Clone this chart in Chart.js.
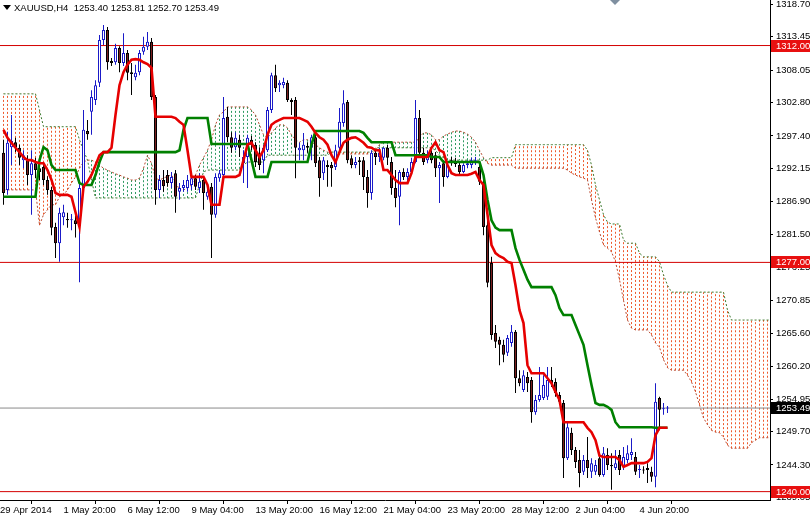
<!DOCTYPE html>
<html>
<head>
<meta charset="utf-8">
<script src="https://cdn.jsdelivr.net/npm/chart.js@4.4.1/dist/chart.umd.min.js"></script>
<style>
html, body { margin: 0; padding: 0; background: #fff; }
#wrap { width: 810px; height: 519px; }
</style>
</head>
<body>
<div id="wrap"><canvas id="xau" width="810" height="519"></canvas></div>
<script>
const symbolTitle = 'XAUUSD,H4  1253.40 1253.81 1252.70 1253.49';

// time axis: bar index of each label (4 px per H4 bar)
const xMin = -0.875;
const xMax = 191.625;
const timeLabels = ['29 Apr 2014', '1 May 20:00', '6 May 12:00', '9 May 04:00', '13 May 20:00', '16 May 12:00',
  '21 May 04:00', '23 May 20:00', '28 May 12:00', '2 Jun 04:00', '4 Jun 20:00'];
const timeTickBars = [xMin, 15, 31, 47, 63, 79, 95, 111, 127, 143, 159];

const priceTicks = [1318.70, 1313.45, 1308.05, 1302.80, 1297.40, 1292.15, 1286.90, 1281.50,
  1276.25, 1270.85, 1265.60, 1260.20, 1254.95, 1249.70, 1244.30, 1239.05];
const priceMin = 1238.65;
const priceMax = 1319.35;

const levels = [1312.00, 1277.00, 1240.00];
const bidPrice = 1253.49;

// candles
const opens = [
  1294.7, 1288.7, 1295.6, 1296.4, 1295.5, 1293.5, 1293.5, 1291.1, 1293.0, 1292.2,
  1292.4, 1290.3, 1288.7, 1282.7, 1280.1, 1284.3, 1284.0, 1283.8, 1283.8, 1282.9,
  1289.0, 1298.2, 1301.3, 1303.2, 1306.0, 1312.9, 1314.5, 1309.5, 1309.3, 1311.6,
  1309.2, 1310.8, 1307.7, 1306.9, 1307.7, 1311.0, 1311.8, 1312.6, 1303.7, 1288.7,
  1290.3, 1291.1, 1289.8, 1291.4, 1288.4, 1289.0, 1289.0, 1289.5, 1290.6, 1289.0,
  1290.3, 1287.6, 1289.2, 1284.7, 1290.6, 1291.1, 1300.5, 1297.2, 1295.6, 1296.8,
  1293.0, 1294.0, 1296.8, 1296.0, 1294.0, 1293.5, 1295.1, 1301.6, 1307.2, 1305.6,
  1305.6, 1306.0, 1303.2, 1303.2, 1295.1, 1295.1, 1295.8, 1295.5, 1297.2, 1293.5,
  1291.4, 1292.7, 1292.7, 1292.4, 1295.5, 1299.5, 1302.9, 1293.8, 1292.7, 1293.5,
  1293.5, 1290.8, 1288.2, 1294.7, 1294.0, 1293.9, 1295.5, 1293.2, 1289.0, 1287.6,
  1291.6, 1290.8, 1291.6, 1293.2, 1300.3, 1294.7, 1293.5, 1294.7, 1294.3, 1292.2,
  1293.0, 1290.8, 1293.5, 1293.2, 1292.7, 1291.6, 1292.7, 1292.7, 1293.2, 1292.4,
  1290.0, 1283.0, 1276.9, 1265.6, 1264.5, 1263.7, 1262.4, 1264.0, 1265.8, 1258.3,
  1256.4, 1258.5, 1258.0, 1252.8, 1254.8, 1255.1, 1255.3, 1258.0, 1257.7, 1255.6,
  1254.3, 1245.4, 1249.5, 1246.7, 1245.1, 1243.2, 1245.1, 1243.2, 1243.2, 1245.4,
  1242.7, 1245.9, 1244.3, 1243.8, 1245.9, 1244.0, 1245.1, 1245.9, 1245.6, 1243.5,
  1243.5, 1243.8, 1243.2, 1242.4, 1255.1, 1253.3, 1253.40
];
const highs = [
  1296.8, 1298.1, 1300.8, 1297.1, 1296.0, 1295.1, 1294.3, 1295.1, 1293.9, 1293.5,
  1293.2, 1290.9, 1289.2, 1283.4, 1285.8, 1286.3, 1285.0, 1284.8, 1284.6, 1290.3,
  1301.6, 1300.0, 1304.8, 1306.4, 1313.7, 1315.3, 1315.0, 1310.0, 1312.3, 1311.9,
  1314.0, 1311.3, 1309.2, 1308.9, 1311.3, 1313.4, 1314.2, 1313.2, 1304.0, 1291.1,
  1291.9, 1291.9, 1291.6, 1291.9, 1289.8, 1290.3, 1291.1, 1291.6, 1291.1, 1291.4,
  1290.8, 1289.0, 1289.8, 1291.4, 1291.9, 1303.7, 1302.1, 1298.0, 1298.0, 1297.6,
  1295.1, 1297.6, 1297.4, 1296.4, 1295.6, 1296.0, 1302.1, 1307.6, 1308.9, 1306.4,
  1306.8, 1306.4, 1303.5, 1303.7, 1296.3, 1297.9, 1296.4, 1297.6, 1297.9, 1294.0,
  1294.0, 1293.5, 1293.2, 1296.0, 1301.9, 1304.8, 1303.2, 1294.3, 1294.0, 1294.0,
  1294.0, 1291.9, 1295.1, 1295.1, 1295.5, 1295.6, 1296.0, 1294.0, 1291.9, 1291.9,
  1292.2, 1292.2, 1293.9, 1303.2, 1301.6, 1295.5, 1295.1, 1295.1, 1294.8, 1293.2,
  1293.5, 1293.2, 1294.0, 1293.9, 1293.2, 1293.0, 1293.5, 1293.9, 1294.0, 1292.7,
  1290.6, 1283.8, 1277.9, 1266.9, 1265.0, 1264.5, 1265.3, 1266.9, 1266.1, 1259.6,
  1259.6, 1259.3, 1258.5, 1255.6, 1260.1, 1258.8, 1260.1, 1260.1, 1258.3, 1256.1,
  1254.8, 1251.1, 1250.3, 1247.2, 1246.7, 1245.9, 1248.8, 1245.4, 1245.1, 1245.9,
  1247.2, 1247.0, 1246.2, 1246.7, 1246.7, 1247.2, 1247.5, 1248.6, 1246.4, 1244.3,
  1244.1, 1244.6, 1244.0, 1257.5, 1255.3, 1254.3, 1253.81
];
const lows = [
  1286.3, 1287.9, 1292.7, 1294.8, 1292.7, 1292.2, 1289.5, 1284.7, 1290.6, 1290.3,
  1289.5, 1287.9, 1281.4, 1277.7, 1277.1, 1283.0, 1282.6, 1282.2, 1281.0, 1273.8,
  1288.4, 1296.8, 1297.6, 1302.4, 1305.3, 1312.1, 1308.1, 1308.7, 1308.9, 1307.7,
  1308.7, 1306.4, 1304.0, 1306.4, 1307.2, 1310.5, 1311.3, 1303.2, 1286.3, 1287.4,
  1288.4, 1289.2, 1289.0, 1285.0, 1287.1, 1288.4, 1288.4, 1288.7, 1288.7, 1288.2,
  1285.5, 1287.1, 1277.7, 1284.2, 1290.0, 1290.6, 1296.4, 1294.7, 1295.1, 1294.0,
  1289.8, 1289.0, 1295.1, 1292.4, 1291.9, 1291.4, 1294.8, 1301.1, 1304.5, 1304.5,
  1305.1, 1302.9, 1300.8, 1290.6, 1293.5, 1293.5, 1294.7, 1293.5, 1292.4, 1287.6,
  1290.3, 1289.2, 1289.2, 1291.9, 1295.1, 1298.9, 1293.0, 1292.2, 1292.2, 1291.1,
  1288.7, 1285.8, 1287.1, 1292.7, 1293.2, 1293.5, 1292.7, 1287.9, 1285.9, 1283.0,
  1290.3, 1290.0, 1291.1, 1293.0, 1294.0, 1292.7, 1293.0, 1293.0, 1290.8, 1286.6,
  1289.2, 1290.6, 1292.6, 1292.4, 1291.1, 1291.4, 1292.2, 1292.2, 1292.7, 1289.5,
  1281.4, 1273.0, 1264.5, 1263.2, 1260.4, 1260.9, 1261.9, 1263.4, 1255.9, 1257.0,
  1256.1, 1256.1, 1251.1, 1252.4, 1254.5, 1254.8, 1254.8, 1256.9, 1255.3, 1254.0,
  1242.2, 1245.1, 1245.9, 1243.8, 1240.7, 1242.7, 1242.2, 1242.2, 1242.7, 1242.4,
  1242.4, 1243.5, 1240.3, 1243.5, 1242.7, 1243.5, 1244.6, 1245.1, 1242.7, 1242.2,
  1242.9, 1241.4, 1241.6, 1240.7, 1249.9, 1252.4, 1252.70
];
const closes = [
  1288.2, 1296.3, 1296.6, 1295.5, 1293.9, 1294.3, 1291.1, 1293.0, 1291.9, 1291.6,
  1290.3, 1288.7, 1282.6, 1280.1, 1285.0, 1285.1, 1283.8, 1283.9, 1283.2, 1289.0,
  1298.4, 1297.7, 1303.7, 1305.6, 1312.9, 1314.5, 1309.3, 1309.2, 1311.6, 1309.2,
  1310.8, 1307.6, 1307.4, 1307.6, 1310.8, 1311.8, 1312.6, 1303.7, 1288.7, 1290.3,
  1289.3, 1289.8, 1290.8, 1287.6, 1289.0, 1289.5, 1290.3, 1290.6, 1289.2, 1290.0,
  1288.2, 1288.4, 1284.7, 1290.8, 1291.4, 1300.3, 1297.2, 1295.5, 1297.1, 1295.5,
  1294.0, 1297.1, 1296.0, 1293.2, 1292.7, 1295.5, 1301.6, 1307.2, 1305.1, 1306.0,
  1306.1, 1303.2, 1302.9, 1295.5, 1295.5, 1296.0, 1295.5, 1297.2, 1293.0, 1290.6,
  1293.5, 1292.4, 1292.2, 1295.1, 1299.7, 1302.7, 1293.5, 1292.7, 1293.2, 1293.2,
  1290.8, 1288.2, 1294.7, 1294.0, 1294.7, 1295.5, 1293.9, 1289.0, 1287.4, 1291.6,
  1290.8, 1291.6, 1293.2, 1300.3, 1294.7, 1293.2, 1294.3, 1293.5, 1292.2, 1292.7,
  1290.8, 1292.7, 1293.0, 1292.9, 1291.6, 1292.7, 1293.0, 1293.5, 1293.5, 1290.0,
  1282.7, 1273.7, 1265.3, 1264.2, 1263.7, 1262.1, 1264.8, 1265.8, 1258.3, 1257.5,
  1258.8, 1257.5, 1252.8, 1254.8, 1255.6, 1257.2, 1258.0, 1257.5, 1255.9, 1254.5,
  1245.4, 1250.4, 1246.7, 1244.8, 1243.0, 1245.1, 1243.8, 1244.6, 1244.3, 1242.7,
  1246.2, 1244.3, 1244.1, 1244.6, 1243.5, 1245.6, 1246.2, 1246.4, 1243.2, 1243.6,
  1243.4, 1243.5, 1242.4, 1254.5, 1253.2, 1253.4, 1253.49
];

// Ichimoku lines
const tenkan = [
  1298.4, 1297.1, 1296.3, 1295.5, 1294.8, 1294.0, 1293.5, 1293.5, 1293.2, 1293.0,
  1293.0, 1291.9, 1290.3, 1288.2, 1287.9, 1287.9, 1287.9, 1287.6, 1285.1, 1282.7,
  1289.2, 1290.0, 1291.1, 1292.7, 1294.3, 1294.8, 1294.8, 1295.5, 1300.8, 1305.6,
  1307.7, 1308.9, 1309.7, 1309.8, 1309.7, 1309.3, 1309.0, 1308.4, 1300.5, 1300.5,
  1300.5, 1300.5, 1300.5, 1300.3, 1299.7, 1299.2, 1295.1, 1290.8, 1290.8, 1290.8,
  1290.8, 1289.5, 1286.3, 1286.3, 1286.3, 1290.8, 1290.8, 1290.8, 1290.8, 1291.1,
  1293.5, 1296.0, 1296.3, 1295.1, 1294.0, 1295.1, 1297.6, 1299.2, 1299.7, 1300.0,
  1300.3, 1300.3, 1300.3, 1300.3, 1300.3, 1300.0, 1299.7, 1298.9, 1297.9, 1297.2,
  1296.8, 1296.0, 1294.3, 1293.2, 1294.8, 1296.3, 1296.8, 1297.1, 1297.2, 1296.8,
  1296.3, 1295.6, 1295.5, 1295.1, 1295.1, 1291.9, 1291.9, 1291.1, 1290.3, 1289.8,
  1289.8, 1289.8, 1291.4, 1294.0, 1294.0, 1294.0, 1294.0, 1295.5, 1296.4, 1295.1,
  1294.8, 1292.7, 1291.4, 1291.1, 1291.1, 1291.1, 1291.1, 1291.3, 1291.6, 1290.3,
  1289.5, 1284.7, 1279.8, 1278.5, 1278.0, 1277.7, 1277.1, 1276.9, 1273.3, 1269.3,
  1267.2, 1260.4, 1259.1, 1259.1, 1259.1, 1259.1, 1258.3, 1257.5, 1256.1, 1254.8,
  1251.2, 1251.2, 1251.2, 1251.2, 1251.2, 1251.2, 1250.3, 1249.6, 1248.3, 1245.8,
  1245.6, 1245.6, 1245.6, 1245.6, 1245.1, 1244.0, 1244.3, 1244.6, 1244.6, 1244.6,
  1244.6, 1244.8, 1245.4, 1249.1, 1250.3, 1250.3, 1250.3
];
const kijun = [
  1287.6, 1287.6, 1287.6, 1287.6, 1287.6, 1287.6, 1287.6, 1287.6, 1287.6, 1293.5,
  1295.6, 1295.1, 1292.7, 1291.9, 1291.9, 1291.9, 1291.9, 1291.9, 1291.9, 1289.8,
  1289.5, 1289.5, 1289.5, 1291.1, 1293.2, 1294.8, 1294.8, 1294.8, 1294.8, 1294.8,
  1294.8, 1294.8, 1294.8, 1294.8, 1294.8, 1294.8, 1294.8, 1294.8, 1294.8, 1294.8,
  1294.8, 1294.8, 1294.8, 1294.8, 1295.1, 1298.4, 1300.3, 1300.3, 1300.3, 1300.3,
  1300.3, 1300.3, 1296.1, 1296.1, 1296.1, 1296.1, 1296.1, 1296.1, 1296.1, 1296.1,
  1296.1, 1296.1, 1293.5, 1290.8, 1290.8, 1290.8, 1290.8, 1293.2, 1293.2, 1293.2,
  1293.2, 1293.2, 1293.2, 1293.2, 1293.2, 1293.2, 1293.2, 1296.0, 1298.2, 1298.2,
  1298.2, 1298.2, 1298.2, 1298.2, 1298.2, 1298.2, 1298.2, 1298.2, 1298.2, 1298.2,
  1297.9, 1297.1, 1296.4, 1296.4, 1296.4, 1296.4, 1296.4, 1296.4, 1294.3, 1294.3,
  1294.3, 1294.3, 1294.3, 1294.3, 1294.3, 1294.3, 1294.3, 1294.0, 1294.0, 1294.0,
  1293.2, 1293.2, 1293.2, 1293.2, 1293.2, 1293.2, 1293.2, 1293.2, 1293.2, 1293.2,
  1291.1, 1287.1, 1283.8, 1282.6, 1282.2, 1282.2, 1282.2, 1282.2, 1279.3, 1277.4,
  1275.8, 1274.2, 1273.0, 1273.0, 1273.0, 1273.0, 1273.0, 1273.0, 1271.7, 1269.6,
  1268.5, 1268.5, 1268.5, 1266.9, 1265.3, 1263.7, 1260.4, 1257.2, 1254.3, 1254.0,
  1254.0, 1253.7, 1253.2, 1251.2, 1250.4, 1250.4, 1250.4, 1250.4, 1250.4, 1250.4,
  1250.4, 1250.4, 1250.4, 1250.3, 1250.3, 1250.3, 1250.3
];
// cloud, shifted 26 bars ahead (bar 0..192)
const spanA = [
  1288.7, 1288.7, 1288.7, 1288.7, 1288.7, 1288.7, 1288.7, 1288.7, 1288.7, 1283.0,
  1284.7, 1285.5, 1286.3, 1286.3, 1287.6, 1287.9, 1288.7, 1289.8, 1290.8, 1292.2,
  1293.2, 1293.5, 1293.5, 1293.2, 1292.7, 1292.2, 1291.9, 1291.6, 1291.3, 1291.1,
  1290.8, 1290.6, 1290.3, 1290.3, 1290.6, 1292.2, 1294.3, 1293.0, 1290.6, 1290.3,
  1290.6, 1290.9, 1291.1, 1290.0, 1288.7, 1288.7, 1289.0, 1289.5, 1291.1, 1292.7,
  1293.9, 1295.1, 1296.8, 1299.2, 1300.8, 1301.3, 1302.1, 1302.1, 1302.1, 1302.1,
  1302.1, 1302.1, 1301.6, 1300.8, 1299.2, 1297.6, 1297.1, 1297.9, 1298.7, 1299.2,
  1299.2, 1298.7, 1297.6, 1296.8, 1296.4, 1296.8, 1296.8, 1296.4, 1296.0, 1295.5,
  1295.1, 1294.8, 1294.5, 1294.5, 1294.5, 1294.5, 1294.5, 1294.5, 1294.5, 1294.5,
  1294.5, 1294.5, 1294.5, 1295.1, 1296.0, 1296.4, 1296.4, 1296.4, 1296.4, 1296.4,
  1296.4, 1296.4, 1296.4, 1296.4, 1297.2, 1297.9, 1297.9, 1297.6, 1296.8, 1296.8,
  1297.4, 1297.7, 1298.0, 1298.2, 1298.2, 1298.0, 1297.7, 1297.2, 1296.4, 1295.1,
  1293.9, 1293.0, 1292.7, 1292.7, 1292.7, 1292.7, 1292.7, 1292.7, 1292.2, 1292.2,
  1292.2, 1292.2, 1292.2, 1292.2, 1292.2, 1292.2, 1292.2, 1292.2, 1292.2, 1292.2,
  1292.2, 1291.9, 1291.4, 1291.1, 1290.8, 1290.6, 1290.3, 1287.1, 1284.2, 1281.9,
  1279.8, 1279.3, 1278.7, 1277.1, 1274.2, 1270.9, 1267.7, 1266.4, 1266.1, 1266.1,
  1266.1, 1266.1, 1265.3, 1264.0, 1263.3, 1261.3, 1260.0, 1259.6, 1259.6, 1259.6,
  1259.6, 1258.8, 1257.7, 1256.1, 1254.0, 1251.9, 1250.8, 1249.9, 1249.6, 1249.5,
  1248.8, 1247.5, 1247.0, 1247.0, 1247.0, 1247.0, 1247.0, 1247.9, 1248.3, 1248.7,
  1248.7, 1248.7, 1248.7
];
const spanB = [
  1304.2, 1304.2, 1304.2, 1304.2, 1304.2, 1304.2, 1304.2, 1304.2, 1304.2, 1301.6,
  1298.9, 1298.9, 1298.9, 1298.9, 1298.9, 1298.9, 1298.9, 1298.9, 1298.9, 1296.8,
  1295.1, 1293.5, 1290.3, 1287.4, 1287.4, 1287.4, 1287.4, 1287.4, 1287.4, 1287.4,
  1287.4, 1287.4, 1287.4, 1287.4, 1287.4, 1287.4, 1287.4, 1287.4, 1287.4, 1287.4,
  1287.4, 1287.4, 1287.4, 1287.4, 1287.4, 1287.4, 1287.4, 1287.4, 1287.4, 1289.5,
  1291.6, 1291.9, 1291.9, 1291.9, 1291.9, 1291.9, 1291.9, 1291.9, 1291.9, 1291.9,
  1292.7, 1293.2, 1293.2, 1293.2, 1293.2, 1293.2, 1294.3, 1294.3, 1294.3, 1294.3,
  1294.3, 1294.3, 1294.3, 1294.3, 1294.3, 1294.3, 1294.3, 1294.3, 1294.3, 1294.3,
  1294.3, 1294.3, 1294.8, 1294.8, 1294.8, 1294.8, 1294.8, 1294.8, 1294.8, 1294.8,
  1294.8, 1294.8, 1294.8, 1295.5, 1295.5, 1295.5, 1295.5, 1295.5, 1295.5, 1295.5,
  1295.5, 1295.5, 1295.5, 1295.5, 1295.5, 1295.5, 1295.5, 1295.5, 1295.1, 1294.3,
  1293.9, 1293.5, 1293.5, 1293.5, 1293.5, 1293.5, 1293.5, 1293.5, 1293.5, 1293.5,
  1293.5, 1293.5, 1293.9, 1293.9, 1293.9, 1293.9, 1293.9, 1293.9, 1296.0, 1296.0,
  1296.0, 1296.0, 1296.0, 1296.0, 1296.0, 1296.0, 1296.0, 1296.0, 1296.0, 1296.0,
  1296.0, 1296.0, 1296.0, 1296.0, 1296.0, 1296.0, 1295.1, 1292.7, 1289.5, 1287.1,
  1284.7, 1283.5, 1283.2, 1283.2, 1283.2, 1280.6, 1280.1, 1280.1, 1280.1, 1278.5,
  1277.9, 1277.9, 1277.9, 1277.9, 1277.1, 1275.0, 1273.3, 1272.2, 1272.2, 1272.2,
  1272.2, 1272.2, 1272.2, 1272.2, 1272.2, 1272.2, 1272.2, 1272.2, 1272.2, 1272.2,
  1272.2, 1269.3, 1267.7, 1267.7, 1267.7, 1267.7, 1267.7, 1267.7, 1267.7, 1267.7,
  1267.7, 1267.7, 1267.7
];

const BULL = '#1a1ac8';
const BEAR_FILL = '#7a1e1e';
const LEVEL_RED = '#d40000';
const CLOUD_RED = '#ee5a2c';
const CLOUD_GREEN = '#2f9a62';
const isBull = i => closes[i] >= opens[i];

const pts = arr => arr.map((v, i) => ({ x: i, y: v }));
const hline = v => [{ x: -2, y: v }, { x: 194, y: v }];
// one dotted vertical stroke per bar between span A and span B, broken by null
const cloudPts = spanA.flatMap((a, i) => [{ x: i, y: a }, { x: i, y: spanB[i] }, { x: i, y: null }]);

// red boxes on price axis + title
const overlay = {
  id: 'overlay',
  afterDraw(chart) {
    const ctx = chart.ctx;
    const y = chart.scales.y;
    ctx.save();
    ctx.font = '9.5px "Liberation Sans"';
    ctx.textBaseline = 'middle';
    levels.forEach(v => {
      const py = Math.round(y.getPixelForValue(v));
      ctx.fillStyle = '#e81010';
      ctx.fillRect(771, py - 6, 39, 12);
      ctx.fillStyle = '#fff';
      ctx.fillText(v.toFixed(2), 776, py);
    });
    const pb = Math.round(y.getPixelForValue(bidPrice));
    ctx.fillStyle = '#000';
    ctx.fillRect(771, pb - 6, 39, 12);
    ctx.fillStyle = '#fff';
    ctx.fillText(bidPrice.toFixed(2), 776, pb);

    // title
    ctx.fillStyle = '#000';
    ctx.beginPath();
    ctx.moveTo(3, 5); ctx.lineTo(11, 5); ctx.lineTo(7, 10); ctx.closePath();
    ctx.fill();
    ctx.font = '9.5px "Liberation Sans"';
    ctx.fillText(symbolTitle, 14, 8);
    // shift marker
    ctx.fillStyle = '#7f8fa0';
    ctx.beginPath();
    ctx.moveTo(610, 0); ctx.lineTo(620, 0); ctx.lineTo(615, 5); ctx.closePath();
    ctx.fill();
    ctx.restore();
  }
};

Chart.defaults.font.family = '"Liberation Sans", Arial, sans-serif';
Chart.defaults.font.size = 9.5;
Chart.defaults.color = '#000';

new Chart(document.getElementById('xau'), {
  type: 'line',
  data: {
    datasets: [
      { label: 'Tenkan', data: pts(tenkan), borderColor: '#e60000', borderWidth: 2.6, pointRadius: 0, order: 1 },
      { label: 'Kijun', data: pts(kijun), borderColor: '#008000', borderWidth: 2.6, pointRadius: 0, order: 2 },
      {
        type: 'bar', label: 'Body',
        data: opens.map((o, i) => ({ x: i, y: [o, closes[i]] })),
        backgroundColor: c => isBull(c.dataIndex) ? '#ffffff' : BEAR_FILL,
        borderColor: c => isBull(c.dataIndex) ? BULL : '#000000',
        borderWidth: 1, borderSkipped: false, barThickness: 3, minBarLength: 1,
        grouped: false, inflateAmount: 0, order: 3
      },
      {
        type: 'bar', label: 'Wick',
        data: lows.map((l, i) => ({ x: i, y: [l, highs[i]] })),
        backgroundColor: c => isBull(c.dataIndex) ? BULL : '#000000',
        borderWidth: 0, barThickness: 1, grouped: false, inflateAmount: 0, order: 4
      },
      { label: 'L1', data: hline(levels[0]), borderColor: LEVEL_RED, borderWidth: 1, pointRadius: 0, order: 5 },
      { label: 'L2', data: hline(levels[1]), borderColor: LEVEL_RED, borderWidth: 1, pointRadius: 0, order: 5 },
      { label: 'L3', data: hline(levels[2]), borderColor: LEVEL_RED, borderWidth: 1, pointRadius: 0, order: 5 },
      { label: 'Bid', data: hline(bidPrice), borderColor: '#8a8a8a', borderWidth: 1, pointRadius: 0, order: 5 },
      {
        label: 'Span A', data: pts(spanA), borderColor: '#b84a30', borderWidth: 1, borderDash: [2, 2],
        pointRadius: 0, fill: false, order: 6
      },
      {
        label: 'Span B', data: pts(spanB), borderColor: '#3c7a2e', borderWidth: 1, borderDash: [2, 2],
        pointRadius: 0, fill: false, order: 7
      },
      {
        label: 'Cloud', data: cloudPts, borderWidth: 1, borderDash: [2, 2], pointRadius: 0,
        fill: false, spanGaps: false, order: 8, borderColor: CLOUD_RED,
        segment: {
          borderColor: c => {
            const k = Math.floor(c.p0DataIndex / 3);
            return spanA[k] >= spanB[k] ? CLOUD_GREEN : CLOUD_RED;
          }
        }
      }
    ]
  },
  options: {
    responsive: false,
    devicePixelRatio: 1,
    animation: false,
    layout: { padding: 0 },
    plugins: { legend: { display: false }, tooltip: { enabled: false } },
    scales: {
      x: {
        type: 'linear', min: xMin, max: xMax, offset: false,
        grid: { drawOnChartArea: false, drawTicks: true, tickLength: 4, color: '#000' },
        border: { display: true, color: '#000' },
        afterBuildTicks: s => { s.ticks = timeTickBars.map(v => ({ value: v })); },
        afterFit: s => { s.height = 19; s.paddingLeft = 0; s.paddingRight = 0; },
        ticks: {
          autoSkip: false, maxRotation: 0, align: 'start', padding: 1,
          callback: (v, i) => timeLabels[i]
        }
      },
      y: {
        position: 'right', min: priceMin, max: priceMax,
        grid: { drawOnChartArea: false, drawTicks: true, tickLength: 3, color: '#000' },
        border: { display: true, color: '#000' },
        afterBuildTicks: s => { s.ticks = priceTicks.map(v => ({ value: v })); },
        afterFit: s => { s.width = 40; s.paddingTop = 0; s.paddingBottom = 0; },
        ticks: { autoSkip: false, padding: 3, callback: v => v.toFixed(2) }
      }
    }
  },
  plugins: [overlay]
});
</script>
</body>
</html>
